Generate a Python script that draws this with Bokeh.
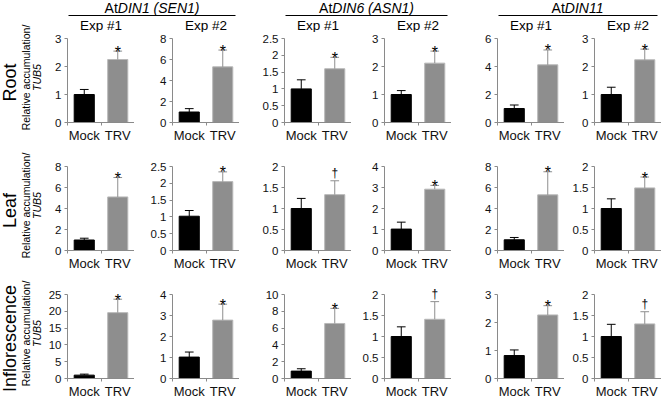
import numpy as np
from bokeh.plotting import figure
from bokeh.layouts import column, row
from bokeh.models import Range1d, FixedTicker, ColumnDataSource, NumeralTickFormatter, Label
from bokeh.embed import file_html
from bokeh.resources import INLINE
from bokeh.core.properties import value

# ---------------- data ----------------
genes = ["DIN1 (SEN1)", "DIN6 (ASN1)", "DIN11"]
gene_prefix = "At"
experiments = ["Exp #1", "Exp #2"]
tissues = ["Root", "Leaf", "Inflorescence"]
categories = ["Mock", "TRV"]
y_label = ["Relative accumulation/", "TUB5"]

# rows = tissues, columns = DIN1 Exp1, DIN1 Exp2, DIN6 Exp1, DIN6 Exp2, DIN11 Exp1, DIN11 Exp2
mock_mean = [
    [1.0, 1.0, 1.0, 1.0, 1.0, 1.0],
    [1.0, 1.02, 1.0, 1.02, 1.02, 1.0],
    [1.0, 1.02, 0.88, 1.0, 0.82, 1.0],
]
mock_err = [
    [0.18, 0.32, 0.27, 0.14, 0.25, 0.26],
    [0.17, 0.17, 0.24, 0.33, 0.22, 0.23],
    [0.30, 0.24, 0.28, 0.23, 0.20, 0.29],
]
trv_mean = [
    [2.25, 5.3, 1.6, 2.12, 4.12, 2.24],
    [5.1, 2.05, 1.33, 2.92, 5.3, 1.49],
    [19.6, 2.78, 6.55, 1.41, 2.27, 1.30],
]
trv_err = [
    [0.30, 1.60, 0.34, 0.43, 1.06, 0.38],
    [1.85, 0.29, 0.33, 0.18, 2.20, 0.26],
    [4.00, 0.76, 1.80, 0.42, 0.33, 0.29],
]
y_max = [
    [3, 8, 2.5, 3, 6, 3],
    [8, 2.5, 2, 4, 8, 2],
    [25, 4, 10, 2, 3, 2],
]
y_step = [
    [1, 2, 0.5, 1, 2, 1],
    [2, 0.5, 0.5, 1, 2, 0.5],
    [5, 1, 2, 0.5, 1, 0.5],
]
marks = [
    ["*", "*", "*", "*", "*", "*"],
    ["*", "*", "\u2020", "*", "*", "*"],
    ["*", "*", "*", "\u2020", "*", "\u2020"],
]

# ---------------- style / layout ----------------
FONT = "Liberation Sans"
FRAME_W, FRAME_H = 67, 84          # axis (0..y_max) height in px
EXTRA = [6, 12, 12]                # free frame space above y_max (room for marks)
LEFT_W = 42
HEADER_H = 32
FRAME_LEFT = [67, 172, 284, 384, 497, 594]
TOP_B = [0, 2, 2]
BOTTOM_B = [30, 30, 20]
TOTAL_W = FRAME_LEFT[-1] + FRAME_W
BAR_FILL = ["#000000", "#8e8e8e"]
BAR_LINE = ["#000000", "#b8b8b8"]
ERR_COLOR = ["#000000", "#8e8e8e"]
AXIS_COLOR = "#8a8a8a"
MARK_OFFSET = {"*": -1, "\u2020": 8}   # Label offsets: positive = up
MARK_SIZE = {"*": "16px", "\u2020": "12px"}

CHAR_W = {"A": .667, "t": .278, "D": .722, "I": .278, "N": .722, "1": .556,
          "6": .556, " ": .278, "(": .333, ")": .333, "S": .667, "E": .667}


def text_w(s, size):
    return sum(CHAR_W.get(ch, .556) for ch in s) * size


def blank_fig(w, h):
    f = figure(frame_width=w, frame_height=h, x_range=Range1d(0, w), y_range=Range1d(0, h),
               output_backend="svg", toolbar_location=None, min_border=0,
               x_axis_type=None, y_axis_type=None)
    f.outline_line_color = None
    f.background_fill_color = None
    f.border_fill_color = None
    return f


# ---------------- header (over the panels) ----------------
HW = TOTAL_W - LEFT_W
header = blank_fig(HW, HEADER_H)
GENE_SIZE = 14
for g, name in enumerate(genes):
    x0 = FRAME_LEFT[2 * g] + 1 - LEFT_W
    x1 = FRAME_LEFT[2 * g + 1] + FRAME_W - 4 - LEFT_W
    xc = (x0 + x1) / 2
    header.segment(x0=[x0], y0=[HEADER_H - 15], x1=[x1], y1=[HEADER_H - 15],
                   line_color="black", line_width=1)
    total = text_w(gene_prefix + name, GENE_SIZE)
    split = xc - total / 2 + text_w(gene_prefix, GENE_SIZE)
    header.text(x=[split], y=[HEADER_H - 7], text=[gene_prefix], text_align="right",
                text_baseline="middle", text_font=value(FONT), text_font_size=f"{GENE_SIZE}px",
                text_color="black")
    header.text(x=[split], y=[HEADER_H - 7], text=[name], text_align="left",
                text_baseline="middle", text_font=value(FONT), text_font_size=f"{GENE_SIZE}px",
                text_font_style="italic", text_color="black")
for c in range(6):
    header.text(x=[FRAME_LEFT[c] + FRAME_W / 2 - LEFT_W], y=[HEADER_H - 25], text=[experiments[c % 2]],
                text_align="center", text_baseline="middle", text_font=value(FONT),
                text_font_size="13.5px", text_color="black")

# ---------------- left labels (one tall figure) ----------------
row_h = [t + e + FRAME_H + b for t, e, b in zip(TOP_B, EXTRA, BOTTOM_B)]
TOTAL_H = HEADER_H + sum(row_h)
left = blank_fig(LEFT_W, TOTAL_H)
for r in range(len(tissues)):
    yc_top = HEADER_H + sum(row_h[:r]) + TOP_B[r] + EXTRA[r] + FRAME_H / 2
    yc = TOTAL_H - yc_top
    left.text(x=[9], y=[yc - 2], text=[tissues[r]], angle=np.pi / 2, text_align="center",
              text_baseline="middle", text_font=value(FONT), text_font_size="18px", text_color="black")
    left.text(x=[25], y=[yc + 3], text=[y_label[0]], angle=np.pi / 2, text_align="center",
              text_baseline="middle", text_font=value(FONT), text_font_size="10.5px", text_color="black")
    left.text(x=[36], y=[yc + 3], text=[y_label[1]], angle=np.pi / 2, text_align="center",
              text_baseline="middle", text_font=value(FONT), text_font_size="10.5px",
              text_font_style="italic", text_color="black")

# ---------------- panels ----------------
rows = [header]
xs = np.arange(len(categories)) + 0.5
bounds = np.arange(len(categories) + 1)
for r in range(len(tissues)):
    figs = []
    for c in range(6):
        prev = LEFT_W if c == 0 else FRAME_LEFT[c - 1] + FRAME_W
        ymax = y_max[r][c]
        y_end = ymax * (FRAME_H + EXTRA[r]) / FRAME_H
        p = figure(frame_width=FRAME_W, frame_height=FRAME_H + EXTRA[r],
                   x_range=Range1d(0, len(categories)), y_range=Range1d(0, y_end),
                   output_backend="svg", toolbar_location=None,
                   min_border_left=FRAME_LEFT[c] - prev, min_border_right=0,
                   min_border_top=TOP_B[r], min_border_bottom=BOTTOM_B[r])
        p.outline_line_color = None
        p.xgrid.visible = False
        p.ygrid.visible = False
        p.border_fill_color = None
        means = [mock_mean[r][c], trv_mean[r][c]]
        errs = [mock_err[r][c], trv_err[r][c]]
        upper = [m + e for m, e in zip(means, errs)]
        src = ColumnDataSource(dict(x=xs, top=means, upper=upper, fill=BAR_FILL,
                                    line=BAR_LINE, ec=ERR_COLOR,
                                    cx0=xs - 0.13, cx1=xs + 0.13))
        p.vbar(x="x", top="top", width=0.6, fill_color="fill", line_color="line",
               line_width=1, source=src)
        p.segment(x0="x", y0="top", x1="x", y1="upper", line_color="ec", line_width=1, source=src)
        p.segment(x0="cx0", y0="upper", x1="cx1", y1="upper", line_color="ec", line_width=1, source=src)
        m = marks[r][c]
        p.add_layout(Label(x=xs[1], y=upper[1], x_units="data", y_units="data", text=m,
                           text_align="center", text_baseline="alphabetic",
                           y_offset=MARK_OFFSET[m], text_font=FONT,
                           text_font_size=MARK_SIZE[m], text_color="black"))

        ticks = list(np.arange(0, ymax + y_step[r][c] / 2, y_step[r][c]))
        p.yaxis.ticker = FixedTicker(ticks=ticks)
        p.yaxis.bounds = (0, ymax)
        p.yaxis.formatter = NumeralTickFormatter(format="0.[0]")
        p.yaxis.major_label_text_font = FONT
        p.yaxis.major_label_text_font_size = "11.5px"
        p.yaxis.major_label_text_color = "#111111"
        p.yaxis.major_label_standoff = 3
        p.yaxis.major_tick_out = 3
        p.yaxis.major_tick_in = 0
        p.yaxis.minor_tick_out = 0
        p.yaxis.minor_tick_in = 0
        p.yaxis.axis_line_color = AXIS_COLOR
        p.yaxis.major_tick_line_color = AXIS_COLOR

        p.xaxis.ticker = FixedTicker(ticks=list(xs), minor_ticks=list(bounds))
        p.xaxis.major_label_overrides = {float(x): cat for x, cat in zip(xs, categories)}
        p.xaxis.major_label_text_font = FONT
        p.xaxis.major_label_text_font_size = "13px"
        p.xaxis.major_label_text_color = "#111111"
        p.xaxis.major_label_standoff = 2
        p.xaxis.major_tick_out = 0
        p.xaxis.major_tick_in = 0
        p.xaxis.minor_tick_out = 3
        p.xaxis.minor_tick_in = 0
        p.xaxis.axis_line_color = AXIS_COLOR
        p.xaxis.minor_tick_line_color = AXIS_COLOR
        figs.append(p)
    rows.append(row(*figs))

layout = row(left, column(*rows))
open("out.html", "w").write(file_html(layout, INLINE))
